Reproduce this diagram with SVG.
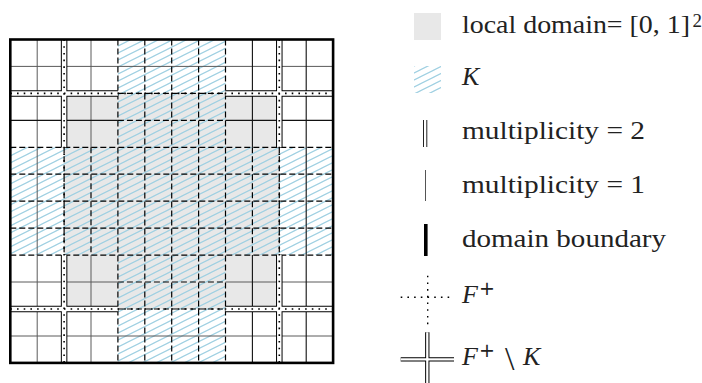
<svg xmlns="http://www.w3.org/2000/svg" width="702" height="383" viewBox="0 0 702 383">
<defs>
<pattern id="hatch" patternUnits="userSpaceOnUse" width="14" height="7">
<path d="M-2 1L16 -8M-2 8L16 -1M-2 15L16 6" stroke="#9fd0e2" stroke-width="1.2" fill="none"/>
</pattern>
<style>
.ld{fill:#e8e8e8}
.hz{fill:url(#hatch)}
.g1{stroke:#5a5a5a;stroke-width:1;fill:none}
.g2{stroke:#111;stroke-width:1.1;fill:none}
.da{stroke:#000;stroke-width:1.2;stroke-dasharray:6 3;fill:none}
.dbo{stroke:#000;stroke-width:6.5;fill:none}
.dbi{stroke:#fff;stroke-width:4.5;fill:none}
.dot{stroke:#000;stroke-width:1.6;stroke-dasharray:1.6 5.1;fill:none}
.bd{fill:none;stroke:#000;stroke-width:2.6}
.tx{font-family:'Liberation Serif','Times New Roman',serif;font-size:26px;fill:#222}
.it{font-style:italic}
.sup{font-family:'DejaVu Sans',sans-serif;font-size:19px;fill:#222}
</style>
</defs>

<g id="local-domain">
<rect class="ld" x="64.1" y="93.4" width="215.2" height="215.6"/>
</g>

<g id="K-region">
<path class="hz" d="M117.9 39.5H225.5V362.9H117.9Z M10.3 147.3H333.1V255.1H10.3Z"/>
</g>

<g id="connectors">
<g id="mesh-solid">
<path class="g1" d="M37.2 39.5V362.9 M91 39.5V147.3 M91 255.1V362.9 M10.3 66.4H333.1 M10.3 282H117.9 M225.5 282H333.1 M10.3 336H333.1"/>
<path class="g2" d="M252.4 39.5V147.3 M252.4 255.1V362.9 M306.2 39.5V362.9 M10.3 120.4H117.9 M225.5 120.4H333.1"/>
</g>
<g id="mesh-dashed">
<path class="da" d="M64.1 147.3V255.1 M91 147.3V255.1 M252.4 147.3V255.1 M279.3 147.3V255.1 M117.9 39.5V362.9 M144.8 39.5V362.9 M171.7 39.5V362.9 M198.6 39.5V362.9 M225.5 39.5V362.9"/>
<path class="da" d="M117.9 93.4H225.5 M117.9 120.4H225.5 M117.9 282H225.5 M117.9 309H225.5 M10.3 147.3H333.1 M10.3 174.2H333.1 M10.3 201.2H333.1 M10.3 228.2H333.1 M10.3 255.1H333.1"/>
</g>
<g id="F-plus-minus-K">
<path class="dbo" d="M64.1 39.5V147.3 M64.1 255.1V362.9 M279.3 39.5V147.3 M279.3 255.1V362.9 M10.3 93.4H117.9 M225.5 93.4H333.1 M10.3 309H117.9 M225.5 309H333.1"/>
<path class="dbi" d="M64.1 39.5V147.3 M64.1 255.1V362.9 M279.3 39.5V147.3 M279.3 255.1V362.9 M10.3 93.4H117.9 M225.5 93.4H333.1 M10.3 309H117.9 M225.5 309H333.1"/>
</g>
<g id="F-plus">
<path class="dot" d="M64.1 39.5V362.9 M279.3 39.5V362.9 M10.3 93.4H333.1 M10.3 309H333.1"/>
</g>
</g>

<g id="domain-boundary">
<rect class="bd" x="10.3" y="39.5" width="322.8" height="323.4"/>
</g>

<g id="legend-local-domain">
<rect class="ld" x="414" y="13" width="27" height="27"/>
<text class="tx" font-family="Liberation Serif, serif" x="462" y="32.5" textLength="228" lengthAdjust="spacingAndGlyphs">local domain= [0, 1]</text>
<text class="tx" font-family="Liberation Serif, serif" x="692.5" y="27" style="font-size:19px">2</text>
</g>

<g id="legend-K">
<rect class="hz" x="414" y="66" width="27" height="27"/>
<text class="tx it" font-family="Liberation Serif, serif" x="462" y="85">K</text>
</g>

<g id="legend-mult2">
<path d="M423.5 120V147 M426.8 120V147" stroke="#222" stroke-width="1" fill="none"/>
<text class="tx" font-family="Liberation Serif, serif" x="462" y="139" textLength="183" lengthAdjust="spacingAndGlyphs">multiplicity = 2</text>
</g>

<g id="legend-mult1">
<path d="M425.5 170V201" stroke="#555" stroke-width="1" fill="none"/>
<text class="tx" font-family="Liberation Serif, serif" x="462" y="193" textLength="183" lengthAdjust="spacingAndGlyphs">multiplicity = 1</text>
</g>

<g id="legend-boundary">
<path d="M425.8 224V256" stroke="#000" stroke-width="3.6" fill="none"/>
<text class="tx" font-family="Liberation Serif, serif" x="462" y="247" textLength="204" lengthAdjust="spacingAndGlyphs">domain boundary</text>
</g>

<g id="legend-F-plus">
<path class="dot" style="stroke-width:1.4" d="M400.7 297.3H449.5 M427.7 275.7V324.5"/>
<text class="tx it" font-family="Liberation Serif, serif" x="462" y="303">F</text>
<text class="sup" x="479" y="295">+</text>
</g>

<g id="legend-F-plus-minus-K">
<path d="M400.7 359.3H454 M427.3 332.3V383" stroke="#000" stroke-width="4.3" fill="none"/>
<path d="M400.7 359.3H454 M427.3 332.3V383" stroke="#fff" stroke-width="2.3" fill="none"/>
<text class="tx it" font-family="Liberation Serif, serif" x="462" y="365">F</text>
<text class="sup" x="479" y="357">+</text>
<text class="tx" font-family="Liberation Serif, serif" x="505" y="370" style="font-size:34px">\</text>
<text class="tx it" font-family="Liberation Serif, serif" x="523" y="365">K</text>
</g>
</svg>
